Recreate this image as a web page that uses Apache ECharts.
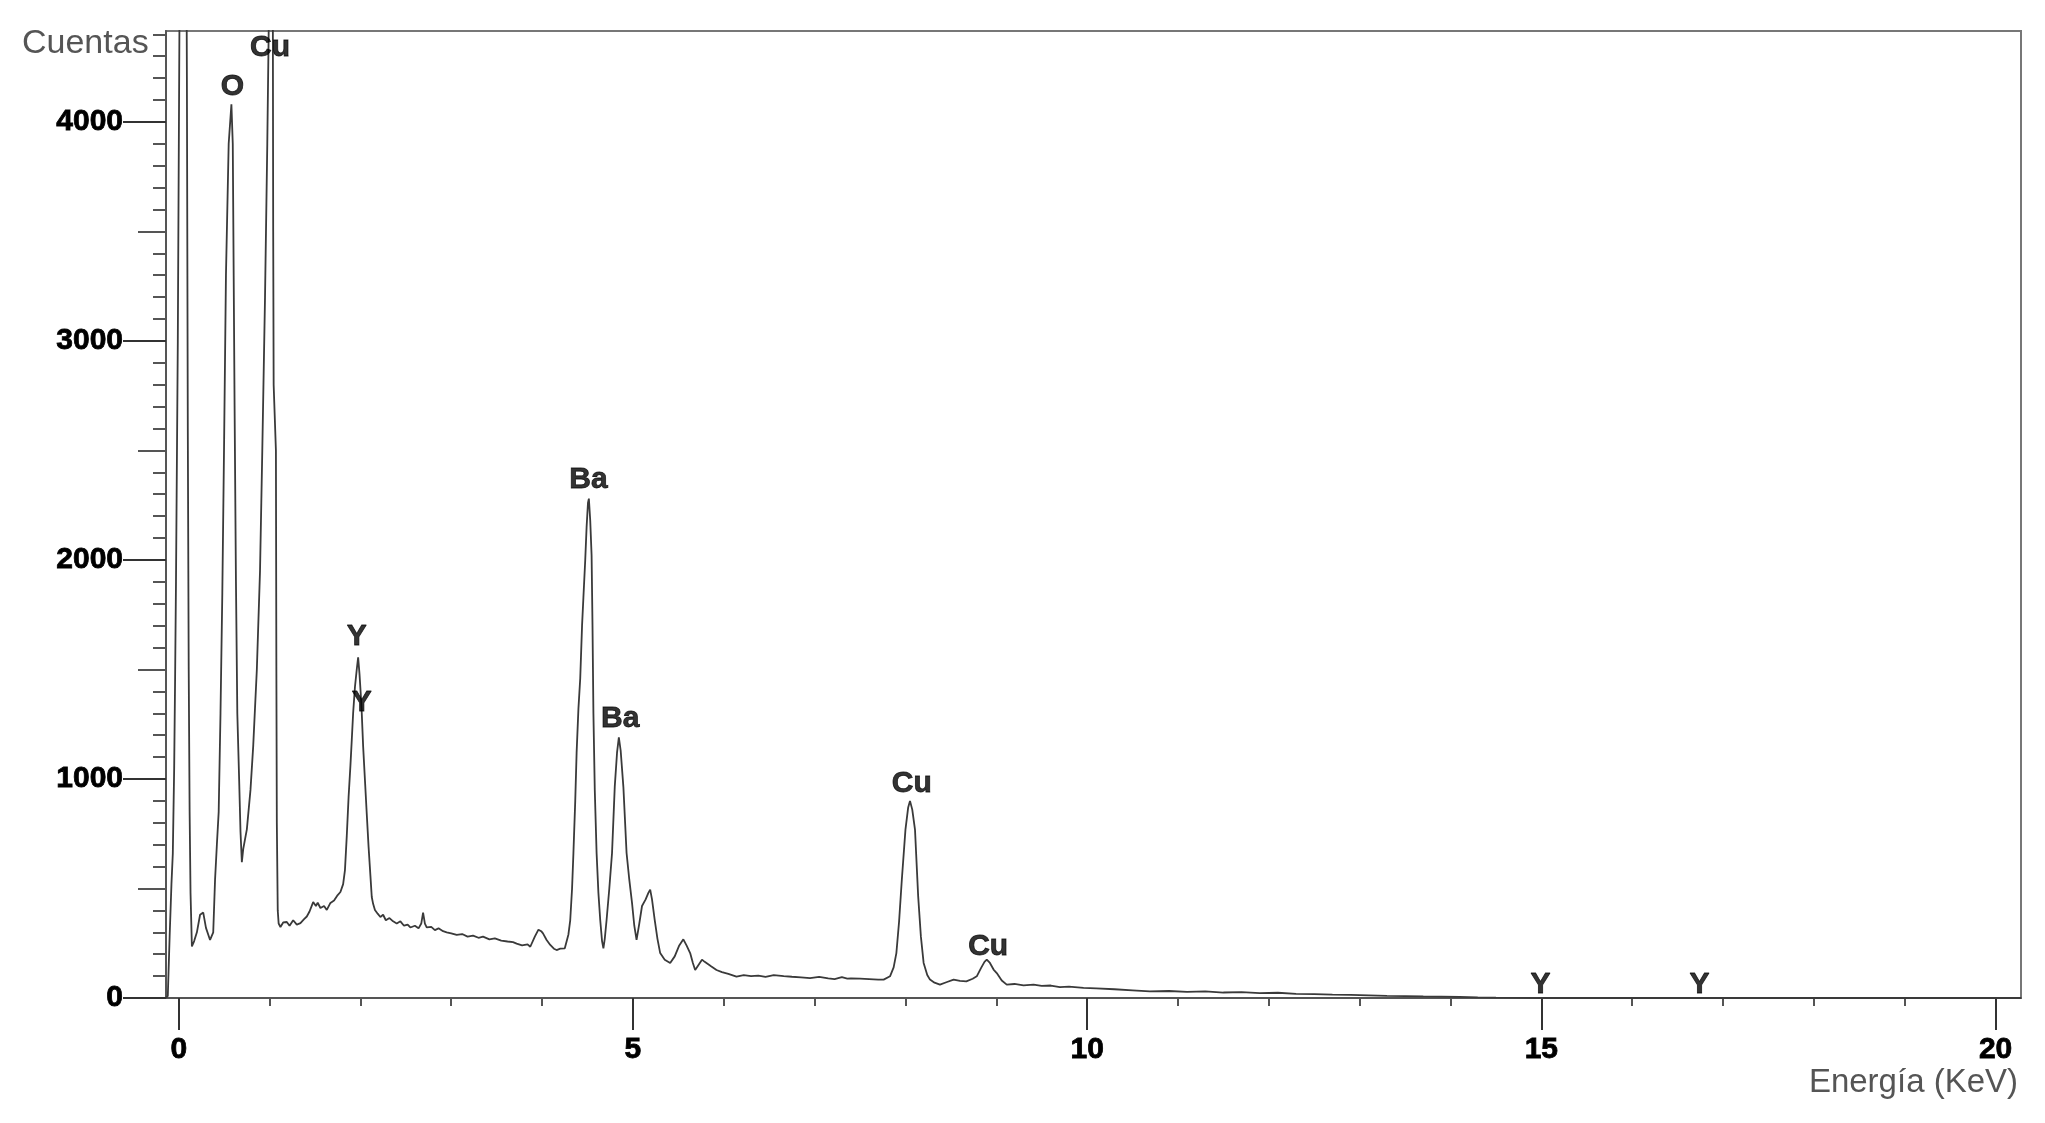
<!DOCTYPE html>
<html>
<head>
<meta charset="utf-8">
<script src="https://cdn.jsdelivr.net/npm/echarts@6/dist/echarts.min.js"></script>
<style>
html,body{margin:0;padding:0;background:#fff;}
#chart{width:2045px;height:1123px;}
</style>
</head>
<body>
<div id="chart"></div>
<script>
// ---- DATA ----
const energy = [
 -0.14,-0.12,-0.10,-0.08,-0.065,-0.05,-0.04,-0.03,-0.01,0.01,0.03,0.07,0.09,0.10,0.11,0.12,0.13,0.145,
 0.17,0.20,0.235,0.27,0.30,0.345,0.38,0.40,0.42,0.44,0.46,0.48,0.50,0.52,0.55,0.58,0.595,0.605,0.615,0.63,0.645,0.665,0.68,0.695,
 0.71,0.75,0.79,0.82,0.86,0.895,0.92,0.95,0.975,0.99,1.005,1.02,1.035,1.04,1.045,1.07,1.075,1.08,1.09,1.10,
 1.12,1.15,1.19,1.22,1.26,1.30,1.34,1.38,1.41,1.44,1.48,1.51,1.53,1.56,1.60,1.63,1.67,1.71,1.75,1.78,1.81,1.83,1.85,1.87,1.89,1.905,1.92,1.94,1.96,1.975,1.99,2.005,2.015,2.03,2.05,2.07,2.09,2.11,2.125,2.14,2.16,2.19,2.22,2.25,2.28,2.32,2.36,2.40,2.44,2.48,2.52,2.55,2.60,2.64,2.67,2.69,2.71,2.73,2.78,2.82,2.86,2.91,2.95,3.0,3.06,3.12,3.18,3.24,3.30,3.35,3.42,3.48,3.55,3.62,3.68,3.72,3.78,3.84,3.87,3.92,3.96,3.99,4.01,4.05,4.09,4.13,4.16,4.20,4.25,4.29,4.31,4.33,4.345,4.365,4.38,4.40,4.42,4.44,4.455,4.475,4.49,4.505,4.515,4.53,4.545,4.555,4.565,4.58,4.60,4.62,4.64,4.66,4.675,4.69,4.71,4.74,4.77,4.80,4.825,4.845,4.865,4.895,4.93,4.96,4.99,5.015,5.04,5.07,5.10,5.14,5.17,5.19,5.21,5.24,5.27,5.30,5.35,5.41,5.46,5.51,5.555,5.59,5.63,5.66,5.685,5.72,5.76,5.79,5.81,5.86,5.92,5.98,6.05,6.14,6.22,6.30,6.38,6.46,6.55,6.66,6.75,6.85,6.95,7.05,7.15,7.22,7.30,7.36,7.40,
 7.5,7.6,7.7,7.76,7.83,7.87,7.90,7.93,7.96,8.00,8.03,8.05,8.075,8.105,8.14,8.17,8.20,8.24,8.27,8.32,8.38,8.45,8.53,8.60,8.67,8.74,8.785,8.83,8.87,8.895,8.93,8.97,9.005,9.06,9.115,9.2,9.3,9.41,9.5,9.6,9.7,9.8,9.96,10.1,10.3,10.5,10.69,10.9,11.1,11.3,11.5,11.7,11.9,12.1,12.3,12.5,12.7,12.9,13.1,13.3,13.5,13.7,13.9,14.1,14.3,14.5,14.8,15.0,16.0,17.0,18.0,19.0,20.28
];
const counts = [
 0,10,280,520,660,1050,1450,1900,3000,4600,6500,6500,4200,2600,1500,850,480,235,
 260,300,380,390,320,265,300,540,700,850,1300,1850,2550,3300,3900,4080,3900,3300,2700,1900,1300,1000,760,620,
 680,770,950,1150,1500,1950,2500,3200,3900,4400,5000,5600,4800,3500,2800,2500,1500,800,400,340,
 324,345,347,330,355,335,342,360,372,395,438,420,435,411,420,402,434,445,470,484,520,584,740,918,1060,1178,1300,1420,1500,1555,1480,1380,1300,1150,995,840,690,560,461,430,402,385,370,380,355,365,350,340,350,330,335,322,330,318,340,390,340,322,325,310,318,305,300,295,288,292,280,285,275,280,268,272,262,258,255,248,240,245,234,280,312,305,295,265,242,225,219,225,227,290,356,500,662,900,1119,1320,1460,1700,1830,2000,2150,2260,2280,2180,2020,1700,1300,950,662,480,356,260,227,270,356,500,662,965,1120,1190,1130,963,662,540,434,330,265,340,420,450,480,495,450,356,270,205,175,160,190,240,268,240,205,160,128,150,175,165,174,145,128,118,110,98,104,100,102,96,104,100,97,94,91,96,90,86,95,88,90,
 88,86,84,84,99,140,205,350,540,769,870,900,860,769,464,280,160,105,84,70,61,72,84,78,76,88,99,135,165,175,160,130,114,80,61,64,58,61,55,57,50,52,46,44,40,35,30,32,28,30,25,27,22,24,19,18,15,14,12,10,9,7,6,5,3,2,1,0,0,0,0,0,0
];

const peakNames  = ['O','Cu','Ba','Y','Y','Ba','Cu','Cu','Y','Y'];
const peakLabelE = [0.59,1.006,4.51,1.96,2.015,4.86,8.07,8.91,14.99,16.74];
const peakLabelC = [4160,4340,2365,1650,1350,1277,980,235,61,61];

const xMinorTicks = [0,1,2,3,4,5,6,7,8,9,10,11,12,13,14,15,16,17,18,19,20];
const xTickLabels = [0,5,10,15,20];
const yMinorTicks = [0,100,200,300,400,500,600,700,800,900,1000,1100,1200,1300,1400,1500,1600,1700,1800,1900,2000,2100,2200,2300,2400,2500,2600,2700,2800,2900,3000,3100,3200,3300,3400,3500,3600,3700,3800,3900,4000,4100,4200,4300,4400];
const yMidTicks = [500,1500,2500,3500];
const yTickLabels = [0,1000,2000,3000,4000];

const X_MIN = -0.14, X_MAX = 20.28, Y_MIN = 0, Y_MAX = 4415;

// ---- CHART ----
const spectrum = energy.map((e, i) => [e, counts[i]]);
const peakData = peakNames.map((n, i) => ({name: n, value: [peakLabelE[i], peakLabelC[i]]}));

const axisCol = '#555';
const fontFam = '"Liberation Sans", Arial, sans-serif';
const boldText = {fontFamily: fontFam, fontWeight: 'bold', fontSize: 30, color: '#000', textBorderColor: '#000', textBorderWidth: 0.8};

const chart = echarts.init(document.getElementById('chart'), null, {renderer: 'canvas'});
const baseX = {type: 'value', min: X_MIN, max: X_MAX, position: 'bottom', splitLine: {show: false}};
const baseY = {type: 'value', min: Y_MIN, max: Y_MAX, position: 'left', splitLine: {show: false}};

chart.setOption({
  animation: false,
  backgroundColor: '#fff',
  grid: {left: 166, right: 24, top: 31, bottom: 125, show: true, borderColor: '#777', borderWidth: 2, backgroundColor: 'transparent'},
  xAxis: [
    Object.assign({}, baseX, {
      axisLine: {show: true, onZero: false, lineStyle: {color: axisCol, width: 2}},
      axisTick: {show: true, customValues: xMinorTicks, length: 8, lineStyle: {color: axisCol, width: 2}},
      axisLabel: {show: false}
    }),
    Object.assign({}, baseX, {
      axisLine: {show: false, onZero: false},
      axisTick: {show: true, customValues: xTickLabels, length: 32, lineStyle: {color: '#333', width: 2}},
      axisLabel: Object.assign({show: true, customValues: xTickLabels, margin: 37, formatter: v => String(v)}, boldText)
    })
  ],
  yAxis: [
    Object.assign({}, baseY, {
      axisLine: {show: true, onZero: false, lineStyle: {color: axisCol, width: 2}},
      axisTick: {show: true, customValues: yMinorTicks, length: 13, lineStyle: {color: axisCol, width: 2}},
      axisLabel: {show: false}
    }),
    Object.assign({}, baseY, {
      axisLine: {show: false, onZero: false},
      axisTick: {show: true, customValues: yMidTicks, length: 28, lineStyle: {color: axisCol, width: 2}},
      axisLabel: {show: false}
    }),
    Object.assign({}, baseY, {
      axisLine: {show: false, onZero: false},
      axisTick: {show: true, customValues: yTickLabels, length: 43, lineStyle: {color: '#333', width: 2}},
      axisLabel: Object.assign({show: true, customValues: yTickLabels, margin: 43, formatter: v => String(v), padding: [0, 0, 19, 0]}, boldText)
    })
  ],
  graphic: [
    {type: 'text', left: 22, top: 27, style: {text: 'Cuentas', font: '34px ' + fontFam, fill: '#555'}},
    {type: 'text', right: 27, top: 1066, style: {text: 'Energía (KeV)', font: '33px ' + fontFam, fill: '#555'}}
  ],
  series: [
    {
      type: 'line', xAxisIndex: 0, yAxisIndex: 0, data: spectrum, symbol: 'none', clip: true,
      lineStyle: {color: '#3a3a3a', width: 1.8}, z: 3
    },
    {
      type: 'scatter', xAxisIndex: 0, yAxisIndex: 0, data: peakData, symbol: 'circle', symbolSize: 1,
      itemStyle: {color: 'rgba(0,0,0,0)'}, clip: false, z: 5,
      label: Object.assign({show: true, position: 'inside', formatter: p => p.name}, boldText)
    }
  ]
});
</script>
</body>
</html>
